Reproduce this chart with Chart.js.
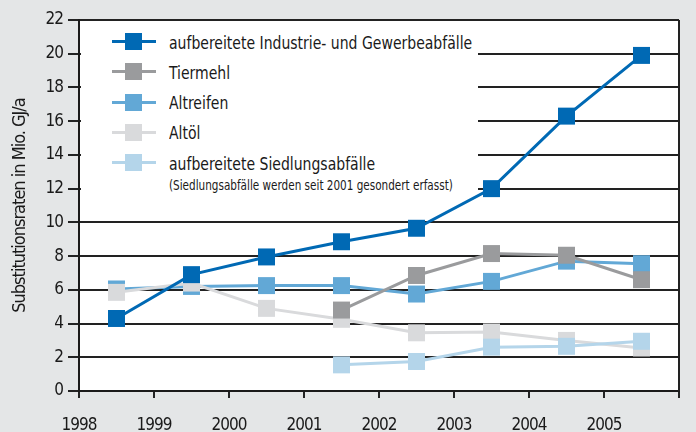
<!DOCTYPE html>
<html>
<head>
<meta charset="utf-8">
<script src="https://cdn.jsdelivr.net/npm/chart.js@4"></script>
<style>
  html, body { margin: 0; padding: 0; background: #e4e6e7; }
  #wrap { position: relative; width: 696px; height: 432px; }
  #legend {
    position: absolute; left: 81px; top: 22px; width: 397px; height: 171px;
    background: #fff; font-family: "DejaVu Sans Condensed", "Liberation Sans", sans-serif;
    color: #1a1a1a;
  }
  .item { position: absolute; left: 31px; height: 20px; display: flex; align-items: center; white-space: nowrap; }
  .sym { position: relative; width: 44px; height: 20px; margin-right: 13px; }
  .sym .ln { position: absolute; left: 0; right: 0; top: 8px; height: 3px; }
  .sym .sq { position: absolute; left: 13px; top: 1px; width: 17px; height: 17px; }
  .item span { display: inline-block; font-size: 18px; transform: scaleX(0.865); transform-origin: left center; }
  .note { position: absolute; left: 88px; top: 155px; font-size: 13.5px; white-space: nowrap;
          transform: scaleX(0.86); transform-origin: left center; }
</style>
</head>
<body>
<div id="wrap">
  <canvas id="subChart" width="696" height="432"></canvas>
  <div id="legend"></div>
</div>
<script>
// values per year, points sit in the middle of each year
const years = [1998, 1999, 2000, 2001, 2002, 2003, 2004, 2005];
const industrie = [4.3, 6.9, 7.95, 8.85, 9.65, 12.0, 16.3, 19.9];
const tiermehl = [null, null, null, 4.8, 6.85, 8.15, 8.05, 6.6];
const altreifen = [6.05, 6.2, 6.25, 6.25, 5.75, 6.5, 7.7, 7.55];
const altoel = [5.85, 6.4, 4.9, 4.25, 3.45, 3.5, 3.0, 2.55];
const siedlung = [null, null, null, 1.55, 1.75, 2.6, 2.65, 2.95];

const labels = [
  'aufbereitete Industrie- und Gewerbeabfälle',
  'Tiermehl',
  'Altreifen',
  'Altöl',
  'aufbereitete Siedlungsabfälle'
];
const colors = ['#0069b4', '#9a9b9d', '#62a8d6', '#d9dadc', '#b4d5ea'];
const drawOrder = [0, 1, 3, 2, 1]; // higher number is painted further back

const FONT = '"DejaVu Sans Condensed", "Liberation Sans", sans-serif';

function points(vals) {
  return years.map((yr, i) => ({ x: yr + 0.5, y: vals[i] }));
}

const series = [industrie, tiermehl, altreifen, altoel, siedlung];

const datasets = series.map((vals, i) => ({
  label: labels[i],
  data: points(vals),
  borderColor: colors[i],
  backgroundColor: colors[i],
  borderWidth: 3,
  pointStyle: 'rect',
  pointRadius: 12,
  pointBorderWidth: 0,
  pointHoverRadius: 12,
  tension: 0,
  order: drawOrder[i]
}));

// legend
const legend = document.getElementById('legend');
labels.forEach((txt, i) => {
  const row = document.createElement('div');
  row.className = 'item';
  row.style.top = (10 + i * 30.3) + 'px';
  row.innerHTML = '<div class="sym"><div class="ln" style="background:' + colors[i] +
    '"></div><div class="sq" style="background:' + colors[i] + '"></div></div><span>' + txt + '</span>';
  legend.appendChild(row);
});
const note = document.createElement('div');
note.className = 'note';
note.textContent = '(Siedlungsabfälle werden seit 2001 gesondert erfasst)';
legend.appendChild(note);

// tighter letter spacing for the axis text
const tightText = {
  id: 'tightText',
  beforeUpdate(chart) { chart.ctx.letterSpacing = '-1px'; },
  beforeDraw(chart) { chart.ctx.letterSpacing = '-1px'; }
};

// white plot area and the right-hand frame line
const plotFrame = {
  id: 'plotFrame',
  beforeDraw(chart) {
    const a = chart.chartArea, ctx = chart.ctx;
    ctx.save();
    ctx.fillStyle = '#fff';
    ctx.fillRect(a.left, a.top, a.right - a.left, a.bottom - a.top);
    ctx.restore();
  },
  afterDraw(chart) {
    const a = chart.chartArea, ctx = chart.ctx;
    ctx.save();
    ctx.strokeStyle = '#222';
    ctx.lineWidth = 2;
    ctx.beginPath();
    ctx.moveTo(a.right, a.top);
    ctx.lineTo(a.right, a.bottom);
    ctx.stroke();
    ctx.restore();
  }
};

new Chart(document.getElementById('subChart'), {
  type: 'line',
  data: { datasets: datasets },
  options: {
    responsive: false,
    animation: false,
    layout: { padding: { top: 20, right: 10, left: 0, bottom: 0 } },
    plugins: { legend: { display: false }, tooltip: { enabled: false } },
    scales: {
      x: {
        type: 'linear',
        min: 1998,
        max: 2006,
        afterFit(scale) { scale.height = 41; },
        ticks: {
          stepSize: 1,
          color: '#1a1a1a',
          font: { family: FONT, size: 17 },
          padding: 17,
          maxRotation: 0,
          callback: v => (v < 2006 ? String(v) : '')
        },
        grid: { drawOnChartArea: false, tickLength: 7, color: '#222', lineWidth: 2 },
        border: { color: '#1a1a1a', width: 2 }
      },
      y: {
        min: 0,
        max: 22,
        afterFit(scale) { scale.width = 79; },
        ticks: {
          stepSize: 2,
          color: '#1a1a1a',
          font: { family: FONT, size: 17 },
          padding: 5
        },
        grid: { tickLength: 11, color: '#222', lineWidth: 2 },
        border: { color: '#1a1a1a', width: 2 },
        title: {
          display: true,
          text: 'Substitutionsraten in Mio. GJ/a',
          color: '#1a1a1a',
          font: { family: FONT, size: 18 },
          padding: { top: 10, bottom: 0 }
        }
      }
    }
  },
  plugins: [tightText, plotFrame]
});
</script>
</body>
</html>
